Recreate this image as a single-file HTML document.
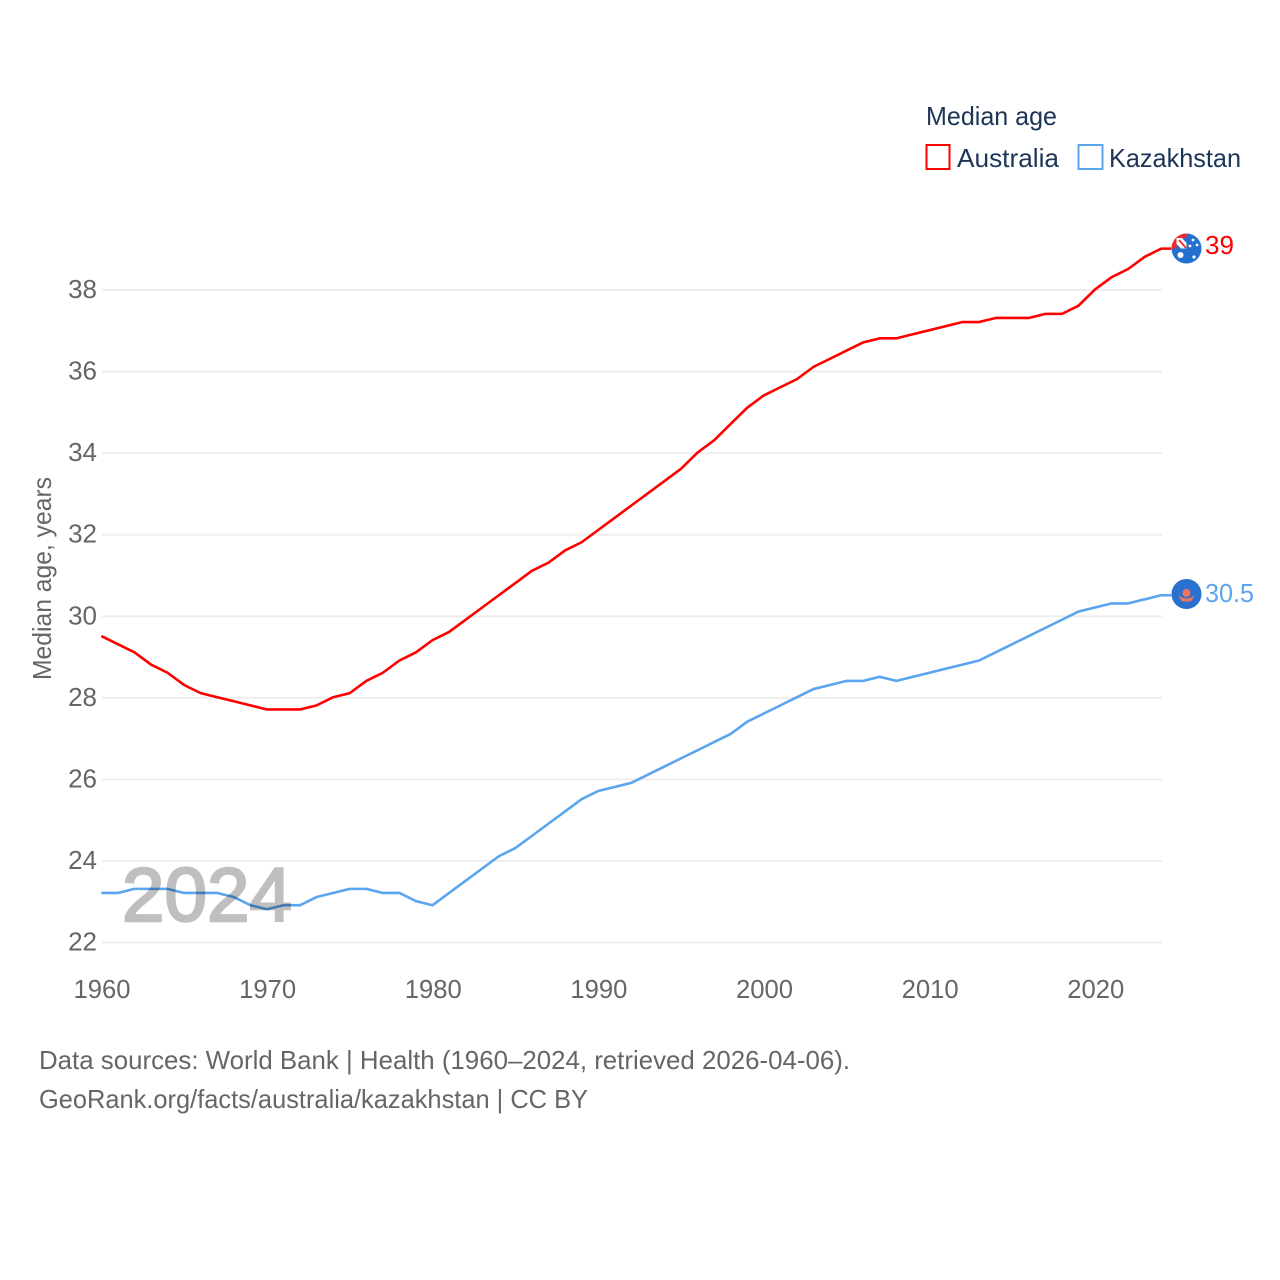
<!DOCTYPE html>
<html lang="en">
<head>
<meta charset="utf-8">
<title>Median age: Australia and Kazakhstan</title>
<style>
html,body{margin:0;padding:0;background:#fff;width:1280px;height:1280px;overflow:hidden}
svg{display:block;font-family:"Liberation Sans",sans-serif}
</style>
</head>
<body>
<svg id="chart" width="1280" height="1280" viewBox="0 0 1280 1280" xmlns="http://www.w3.org/2000/svg">
  <defs>
    <clipPath id="clip-au"><circle cx="1186.5" cy="248.5" r="15"/></clipPath>
    <clipPath id="clip-kz"><circle cx="1186.5" cy="594" r="15"/></clipPath>
  </defs>
  <g id="grid"></g>
  <g id="yticks"></g>
  <g id="xticks"></g>
  <text transform="translate(51,680) rotate(-90)" font-size="26" fill="#666" textLength="203" lengthAdjust="spacingAndGlyphs">Median age, years</text>
  <g id="series" transform="translate(-0.7,-0.6)"></g>
  <text x="122" y="921" font-size="76" fill="#bfbfbf" stroke="#bfbfbf" stroke-width="2.4" textLength="170" lengthAdjust="spacingAndGlyphs" style="mix-blend-mode:multiply">2024</text>

  <g clip-path="url(#clip-au)">
    <rect x="1171" y="233" width="31" height="31" fill="#2470cf"/>
    <rect x="1171" y="233" width="15.5" height="15.5" fill="#ffffff"/>
    <path d="M1171 233h15.5v5h-10v10.500h-5.500z" fill="#f5282d"/>
    <path d="M1182 238h4.500v5zM1176.500 244l4.500 4.500h-4.500z" fill="#2470cf"/>
    <path d="M1179 240l7 8" stroke="#f5282d" stroke-width="1.800" fill="none"/>
    <circle cx="1180.500" cy="255" r="3" fill="#ffffff"/>
    <circle cx="1193" cy="240" r="1.400" fill="#ffffff"/>
    <circle cx="1197" cy="245" r="1.400" fill="#ffffff"/>
    <circle cx="1190" cy="246" r="1.400" fill="#ffffff"/>
    <circle cx="1194" cy="257" r="1.600" fill="#ffffff"/>
  </g>
  <g clip-path="url(#clip-kz)">
    <rect x="1171" y="579" width="31" height="31" fill="#2a70cf"/>
    <circle cx="1186.500" cy="593" r="4" fill="#f0735f"/>
    <path d="M1178 595q8.500 7 17 0l-4 6.500h-9z" fill="#f0735f"/>
  </g>
  <text x="1205" y="254" font-size="26" fill="#ff0000" textLength="29" lengthAdjust="spacingAndGlyphs">39</text>
  <text x="1205" y="602" font-size="26" fill="#5ba4ee" textLength="49" lengthAdjust="spacingAndGlyphs">30.5</text>

  <g>
    <text x="926" y="125" font-size="26" fill="#1d3557" textLength="131" lengthAdjust="spacingAndGlyphs">Median age</text>
    <g>
      <rect x="926.500" y="145" width="23" height="24" fill="none" stroke="#ff0000" stroke-width="2"/>
      <text x="957" y="167" font-size="26" fill="#1d3557" textLength="102" lengthAdjust="spacingAndGlyphs">Australia</text>
    </g>
    <g>
      <rect x="1078.500" y="145" width="24" height="24" fill="none" stroke="#5ba4ee" stroke-width="2"/>
      <text x="1109" y="167" font-size="26" fill="#1d3557" textLength="132" lengthAdjust="spacingAndGlyphs">Kazakhstan</text>
    </g>
  </g>

  <text x="39" y="1069" font-size="26" fill="#666" textLength="811" lengthAdjust="spacingAndGlyphs">Data sources: World Bank | Health (1960–2024, retrieved 2026-04-06).</text>
  <text x="39" y="1108" font-size="26" fill="#666" textLength="549" lengthAdjust="spacingAndGlyphs">GeoRank.org/facts/australia/kazakhstan | CC BY</text>
</svg>
<script>
const years = [1960,1961,1962,1963,1964,1965,1966,1967,1968,1969,1970,1971,1972,1973,1974,1975,1976,1977,1978,1979,1980,1981,1982,1983,1984,1985,1986,1987,1988,1989,1990,1991,1992,1993,1994,1995,1996,1997,1998,1999,2000,2001,2002,2003,2004,2005,2006,2007,2008,2009,2010,2011,2012,2013,2014,2015,2016,2017,2018,2019,2020,2021,2022,2023,2024];
const australia = [29.5,29.3,29.1,28.8,28.6,28.3,28.1,28.0,27.9,27.8,27.7,27.7,27.7,27.8,28.0,28.1,28.4,28.6,28.9,29.1,29.4,29.6,29.9,30.2,30.5,30.8,31.1,31.3,31.6,31.8,32.1,32.4,32.7,33.0,33.3,33.6,34.0,34.3,34.7,35.1,35.4,35.6,35.8,36.1,36.3,36.5,36.7,36.8,36.8,36.9,37.0,37.1,37.2,37.2,37.3,37.3,37.3,37.4,37.4,37.6,38.0,38.3,38.5,38.8,39.0];
const kazakhstan = [23.2,23.2,23.3,23.3,23.3,23.2,23.2,23.2,23.1,22.9,22.8,22.9,22.9,23.1,23.2,23.3,23.3,23.2,23.2,23.0,22.9,23.2,23.5,23.8,24.1,24.3,24.6,24.9,25.2,25.5,25.7,25.8,25.9,26.1,26.3,26.5,26.7,26.9,27.1,27.4,27.6,27.8,28.0,28.2,28.3,28.4,28.4,28.5,28.4,28.5,28.6,28.7,28.8,28.9,29.1,29.3,29.5,29.7,29.9,30.1,30.2,30.3,30.3,30.4,30.5];
const yTickLabels = [22,24,26,28,30,32,34,36,38];
const xTickLabels = [1960,1970,1980,1990,2000,2010,2020];

const NS = 'http://www.w3.org/2000/svg';
function xScale(year) { return 102 + (year - 1960) * (1162 - 102) / (2024 - 1960); }
function yScale(value) { return 942.5 - (value - 22) * (942.5 - 290) / (38 - 22); }

const grid = document.getElementById('grid');
const yticks = document.getElementById('yticks');
const xticks = document.getElementById('xticks');
const seriesGroup = document.getElementById('series');

yTickLabels.forEach(function (v) {
  const line = document.createElementNS(NS, 'line');
  
  
  line.setAttribute('x1', 102);
  line.setAttribute('x2', 1162);
  line.setAttribute('y1', yScale(v));
  line.setAttribute('y2', yScale(v));
  line.setAttribute('stroke', '#eeeeee');
  line.setAttribute('stroke-width', '2');
  grid.appendChild(line);

  const t = document.createElementNS(NS, 'text');
  
  
  t.setAttribute('x', 97);
  t.setAttribute('y', yScale(v) + 8);
  t.setAttribute('text-anchor', 'end');
  t.setAttribute('font-size', '26');
  t.setAttribute('fill', '#666');
  t.textContent = v;
  yticks.appendChild(t);
});

xTickLabels.forEach(function (y) {
  const t = document.createElementNS(NS, 'text');
  
  
  t.setAttribute('x', xScale(y));
  t.setAttribute('y', 998);
  t.setAttribute('text-anchor', 'middle');
  t.setAttribute('font-size', '26');
  t.setAttribute('fill', '#666');
  t.setAttribute('textLength', '57');
  t.setAttribute('lengthAdjust', 'spacingAndGlyphs');
  t.textContent = y;
  xticks.appendChild(t);
});

function drawSeries(values, color, name) {
  let d = '';
  values.forEach(function (v, i) {
    d += (i ? 'L' : 'M') + xScale(years[i]).toFixed(2) + ' ' + yScale(v).toFixed(2);
  });
  d += 'L1172 ' + yScale(values[values.length - 1]).toFixed(2);
  const p = document.createElementNS(NS, 'path');
  
  
  p.setAttribute('d', d);
  p.setAttribute('fill', 'none');
  p.setAttribute('stroke', color);
  p.setAttribute('stroke-width', '2.6');
  p.setAttribute('stroke-linejoin', 'round');
  seriesGroup.appendChild(p);
}
drawSeries(australia, '#ff0000', 'australia-line');
drawSeries(kazakhstan, '#5ba4ee', 'kazakhstan-line');
</script>
</body>
</html>
